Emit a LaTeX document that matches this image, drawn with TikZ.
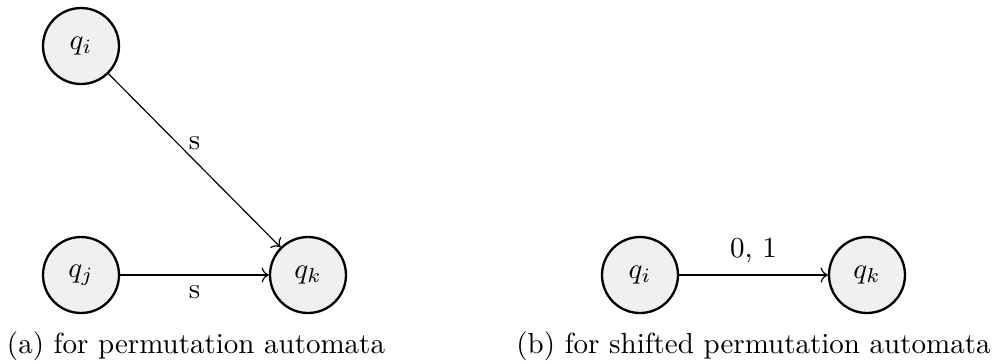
\documentclass[tikz,border=0pt]{standalone}
\usetikzlibrary{arrows.meta}
\begin{document}
\begin{tikzpicture}[x=0.3448pt, y=-0.3448pt,
  state/.style={circle, draw, line width=0.8pt, fill=gray!12,
    minimum size=26.2pt, inner sep=0pt},
  trans/.style={->, line width=0.4pt},
  capt/.style={inner sep=0pt, anchor=base}]
  \useasboundingbox (0,0) rectangle (995,363);

  % (a) permutation automata
  \node[state] (qi) at (81,46) {$q_i$};
  \node[state] (qj) at (81,275) {$q_j$};
  \node[state] (qk) at (308,275) {$q_k$};
  \draw[trans] (qi) -- node[above] {s} (qk);
  \draw[trans] (qj) -- node[below] {s} (qk);

  % (b) shifted permutation automata
  \node[state] (pi) at (640,275) {$q_i$};
  \node[state] (pk) at (867,275) {$q_k$};
  \draw[trans] (pi) -- node[above, yshift=0.5pt] {0, 1} (pk);

  % captions
  \node[capt] (ca) at (196,353) {(a) for permutation automata};
  \node[capt] (cb) at (753.5,353) {(b) for shifted permutation automata};
\end{tikzpicture}
\end{document}
